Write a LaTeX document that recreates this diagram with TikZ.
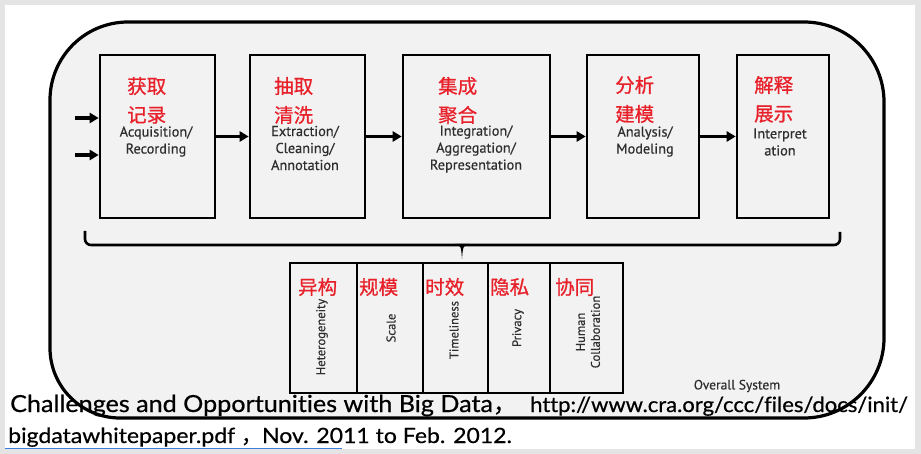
\documentclass[tikz,border=0pt]{standalone}
\usepackage{fontspec}
\setmainfont{PT Sans}[FakeBold=0.5]
\newfontfamily\cjk[FakeBold=0.8]{Noto Sans CJK SC}
\newfontfamily\capfontA[FakeStretch=1.07,FakeBold=0.6,Ligatures=NoCommon]{Lato}
\newfontfamily\capfontB[FakeStretch=1.096,FakeBold=0.6,Ligatures=NoCommon]{Lato}
\newfontfamily\capfontC[FakeStretch=1.05,FakeBold=0.6,Ligatures=NoCommon]{Lato}
\usetikzlibrary{arrows.meta}
\definecolor{zhred}{HTML}{E8202A}
\definecolor{entext}{HTML}{2E2E2E}
\definecolor{panel}{HTML}{F3F2F2}
\definecolor{cardedge}{HTML}{E4E4E4}
\definecolor{linkblue}{HTML}{3D7FE0}
\begin{document}
\begin{tikzpicture}[x=1pt,y=-1pt,
  stagebox/.style={draw=black, line width=2.6pt, inner sep=0pt, minimum height=163pt},
  cellbox/.style={draw=black, line width=2.4pt, inner sep=0pt, minimum height=130pt},
  zh/.style={text=zhred, font=\cjk\fontsize{19.5}{21}\selectfont, inner sep=0pt, anchor=west},
  en/.style={text=entext, font=\fontsize{14.3}{17}\selectfont, align=center, inner sep=0pt},
  vt/.style={text=entext, font=\fontsize{12.6}{15}\selectfont, align=center, inner sep=0pt, rotate=90},
  flow/.style={line width=3.2pt, -{Triangle[length=9pt,width=10pt]}},
  captext/.style={text=black, inner sep=0pt, anchor=base west},
]
% card background
\useasboundingbox (0,0) rectangle (921,454);
\fill[cardedge] (0,0) rectangle (921,454);
\fill[white] (5,5) rectangle (915,449);
% overall system panel
\draw[fill=panel, line width=3.2pt]
  (50,100) arc[start angle=180,end angle=270,radius=78]
  -- (804,22) arc[start angle=270,end angle=360,radius=80]
  -- (884,338) arc[start angle=0,end angle=90,radius=80]
  -- (120,418) arc[start angle=90,end angle=180,radius=70] -- cycle;
% stage boxes
\node[stagebox, minimum width=115pt] (b1) at (157.5,136.5) {};
\node[stagebox, minimum width=115pt] (b2) at (307.5,136.5) {};
\node[stagebox, minimum width=147pt] (b3) at (476.5,136.5) {};
\node[stagebox, minimum width=112pt] (b4) at (643,136.5) {};
\node[stagebox, minimum width=92pt]  (b5) at (783,136.5) {};
% arrows
\coordinate (in1) at (75,118);
\coordinate (in2) at (75,155);
\draw[flow] (in1) -- (in1 -| b1.west);
\draw[flow] (in2) -- (in2 -| b1.west);
\draw[flow] (b1.east) -- (b2.west);
\draw[flow] (b2.east) -- (b3.west);
\draw[flow] (b3.east) -- (b4.west);
\draw[flow] (b4.east) -- (b5.west);
% stage labels
\node[zh] (z1a) at (127,86) {获取};
\node[zh] (z1b) at (127,115) {记录};
\node[en] (e1) at (156,141.5) {Acquisition/\\Recording};
\node[zh] (z2a) at (274,86) {抽取};
\node[zh] (z2b) at (274,115) {清洗};
\node[en] (e2) at (305,148) {Extraction/\\Cleaning/\\Annotation};
\node[zh] (z3a) at (438,86) {集成};
\node[zh] (z3b) at (438,115) {聚合};
\node[en] (e3) at (476,149) {Integration/\\Aggregation/\\Representation};
\node[zh] (z4a) at (615,85) {分析};
\node[zh] (z4b) at (615,114) {建模};
\node[en] (e4) at (645,141.5) {Analysis/\\Modeling};
\node[zh] (z5a) at (754,85) {解释};
\node[zh] (z5b) at (754,114) {展示};
\node[en] (e5) at (780,142) {Interpret\\ation};
% brace
\coordinate (brL) at (85,231);
\coordinate (brR) at (840,232);
\draw[line width=2.6pt, rounded corners=6pt] (brL) -- (85,245) -- (840,245) -- (brR);
\fill (455,243.8) .. controls (461,246) .. (462,259) .. controls (463,246) .. (469,243.8) -- cycle;
% challenge cells
\node[cellbox, minimum width=67pt] (c1) at (323.5,328) {};
\node[cellbox, minimum width=66pt] (c2) at (390,328) {};
\node[cellbox, minimum width=65pt] (c3) at (455.5,328) {};
\node[cellbox, minimum width=62pt] (c4) at (519,328) {};
\node[cellbox, minimum width=73pt] (c5) at (586.5,328) {};
\node[zh] (y1) at (298,287) {异构};
\node[zh] (y2) at (359,287) {规模};
\node[zh] (y3) at (425,287) {时效};
\node[zh] (y4) at (490,287) {隐私};
\node[zh] (y5) at (555,287) {协同};
\node[vt] (v1) at (322,337) {Heterogeneity};
\node[vt] (v2) at (391,328) {Scale};
\node[vt] (v3) at (454,330) {Timeliness};
\node[vt] (v4) at (518,328) {Privacy};
\node[vt] (v5) at (588,332) {Human\\Collaboration};
\node[text=entext, font=\fontsize{13.5}{15}\selectfont, inner sep=0pt] (os) at (737,386) {Overall System};
% caption
\node[captext, font=\capfontA\fontsize{23.5}{27}\selectfont] (cap1) at (10,412) {Challenges and Opportunities with Big Data{\cjk，}};
\node[captext, font=\capfontC\fontsize{21}{25}\selectfont] (cap2) at (530,412) {http://www.cra.org/ccc/files/docs/init/};
\node[captext, font=\capfontB\fontsize{21}{25}\selectfont] (cap3) at (8,443) {bigdatawhitepaper.pdf {\cjk，}Nov. 2011 to Feb. 2012.};
\draw[linkblue, line width=1pt] (5,448) -- (342,448);
\end{tikzpicture}
\end{document}
